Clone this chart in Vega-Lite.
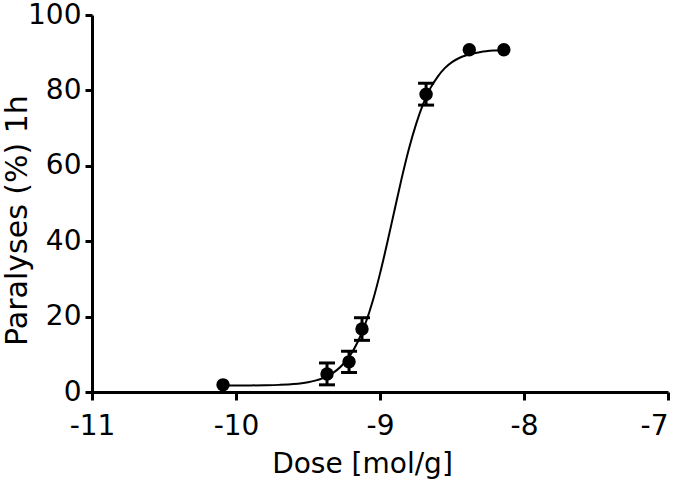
{
  "$schema": "https://vega.github.io/schema/vega-lite/v6.json",
  "width": 576,
  "height": 377,
  "autosize": {"type": "none"},
  "padding": {"left": 92, "top": 15, "right": 7, "bottom": 96},
  "background": "white",
  "config": {
    "view": {"stroke": null},
    "axis": {
      "domainColor": "black",
      "domainWidth": 3,
      "tickColor": "black",
      "tickWidth": 3,
      "tickSize": 8,
      "grid": false,
      "labelFont": "DejaVu Sans",
      "labelFontSize": 28,
      "labelColor": "black",
      "titleFont": "DejaVu Sans",
      "titleFontSize": 28,
      "titleFontWeight": "normal",
      "titleColor": "black",
      "labelFlush": false,
      "labelOverlap": false
    }
  },
  "datasets": {
    "points": [
      {"dose": -10.09, "pct": 1.9},
      {"dose": -9.368, "pct": 4.8, "lo": 1.9, "hi": 7.7},
      {"dose": -9.215, "pct": 8.0, "lo": 5.2, "hi": 10.8},
      {"dose": -9.125, "pct": 16.7, "lo": 13.7, "hi": 19.7},
      {"dose": -8.68, "pct": 79.0, "lo": 76.1, "hi": 81.9},
      {"dose": -8.38, "pct": 90.8},
      {"dose": -8.14, "pct": 90.8}
    ],
    "curve": [
      {"dose": -10.1, "pct": 1.71},
      {"dose": -10.0, "pct": 1.72},
      {"dose": -9.9, "pct": 1.74},
      {"dose": -9.8, "pct": 1.79},
      {"dose": -9.7, "pct": 1.89},
      {"dose": -9.6, "pct": 2.11},
      {"dose": -9.5, "pct": 2.6},
      {"dose": -9.45, "pct": 3.02},
      {"dose": -9.4, "pct": 3.63},
      {"dose": -9.35, "pct": 4.53},
      {"dose": -9.3, "pct": 5.8},
      {"dose": -9.25, "pct": 7.62},
      {"dose": -9.2, "pct": 10.16},
      {"dose": -9.15, "pct": 13.65},
      {"dose": -9.1, "pct": 18.3},
      {"dose": -9.05, "pct": 24.2},
      {"dose": -9.0, "pct": 31.4},
      {"dose": -8.95, "pct": 39.5},
      {"dose": -8.9, "pct": 48.1},
      {"dose": -8.85, "pct": 56.6},
      {"dose": -8.8, "pct": 64.4},
      {"dose": -8.75, "pct": 71.0},
      {"dose": -8.7, "pct": 76.4},
      {"dose": -8.65, "pct": 80.6},
      {"dose": -8.6, "pct": 83.6},
      {"dose": -8.55, "pct": 85.9},
      {"dose": -8.5, "pct": 87.5},
      {"dose": -8.45, "pct": 88.6},
      {"dose": -8.4, "pct": 89.3},
      {"dose": -8.3, "pct": 90.2},
      {"dose": -8.2, "pct": 90.6},
      {"dose": -8.1, "pct": 90.8}
    ]
  },
  "encoding": {
    "x": {
      "field": "dose", "type": "quantitative",
      "scale": {"domain": [-11, -7], "nice": false, "zero": false},
      "axis": {
        "values": [-11, -10, -9, -8, -7],
        "labelExpr": "'' + datum.value",
        "labelAlign": {"condition": {"test": "datum.value == -7", "value": "right"}, "value": "center"},
        "title": "Dose [mol/g]", "labelPadding": 12, "titlePadding": 10, "titleX": 270
      }
    },
    "y": {
      "field": "pct", "type": "quantitative",
      "scale": {"domain": [0, 100], "nice": false},
      "axis": {
        "values": [0, 20, 40, 60, 80, 100], "title": "Paralyses (%) 1h",
        "tickSize": 7, "labelPadding": 4,
        "titleFontSize": 30, "titleX": -66, "titleY": 205, "titleAngle": -90,
        "titleBaseline": "alphabetic", "titleAlign": "center"
      }
    }
  },
  "layer": [
    {
      "data": {"name": "curve"},
      "mark": {"type": "line", "color": "black", "strokeWidth": 2, "interpolate": "monotone"}
    },
    {
      "data": {"name": "points"},
      "transform": [{"filter": "isValid(datum.lo)"}],
      "mark": {"type": "rule", "color": "black", "strokeWidth": 3},
      "encoding": {"y": {"field": "lo", "type": "quantitative"}, "y2": {"field": "hi"}}
    },
    {
      "data": {"name": "points"},
      "transform": [{"filter": "isValid(datum.lo)"}],
      "mark": {"type": "tick", "orient": "horizontal", "color": "black", "size": 16, "thickness": 3, "opacity": 1},
      "encoding": {"y": {"field": "lo", "type": "quantitative"}}
    },
    {
      "data": {"name": "points"},
      "transform": [{"filter": "isValid(datum.hi)"}],
      "mark": {"type": "tick", "orient": "horizontal", "color": "black", "size": 16, "thickness": 3, "opacity": 1},
      "encoding": {"y": {"field": "hi", "type": "quantitative"}}
    },
    {
      "data": {"name": "points"},
      "mark": {"type": "point", "filled": true, "color": "black", "size": 180, "opacity": 1}
    }
  ]
}
